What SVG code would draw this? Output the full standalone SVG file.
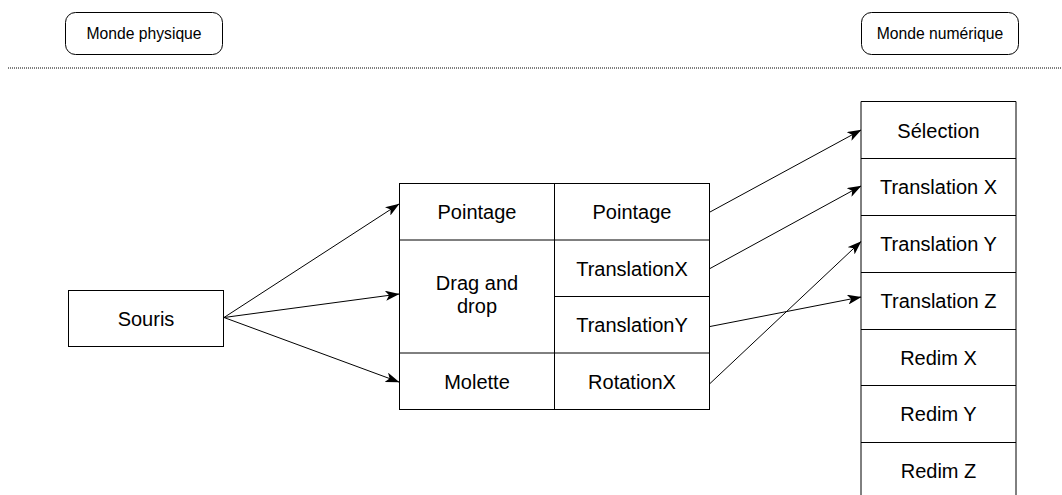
<svg xmlns="http://www.w3.org/2000/svg" width="1062" height="495" viewBox="0 0 1062 495">
<style>
  .box { fill: #ffffff; stroke: #000000; stroke-width: 1; }
  .ln { fill: none; stroke: #000000; stroke-width: 1; }
  .t { font-family: "Liberation Sans", Arial, sans-serif; font-size: 20px; fill: #000000; text-anchor: middle; }
  .ts { font-family: "Liberation Sans", Arial, sans-serif; font-size: 15.7px; fill: #000000; text-anchor: middle; }
  .edge { fill: none; stroke: #000000; stroke-width: 1; marker-end: url(#arr); }
</style>
<defs>
  <marker id="arr" viewBox="0 0 14 10" refX="13.5" refY="5" markerWidth="14" markerHeight="10" markerUnits="userSpaceOnUse" orient="auto">
    <path d="M0,0 L14,5 L0,10 L3.5,5 Z" fill="#000000"/>
  </marker>
</defs>
<rect width="1062" height="495" fill="#ffffff"/>

<g id="separator">
  <line x1="8" y1="68" x2="1062" y2="68" stroke="#000000" stroke-width="1" stroke-dasharray="1 1"/>
</g>

<g id="monde-physique">
  <rect class="box" x="65.5" y="12.5" width="157" height="42" rx="10" ry="10"/>
  <text class="ts" x="144" y="38.5">Monde physique</text>
</g>

<g id="monde-numerique">
  <rect class="box" x="861.5" y="12.5" width="157" height="42" rx="10" ry="10"/>
  <text class="ts" x="940" y="38.5">Monde numérique</text>
</g>

<g id="souris">
  <rect class="box" x="68.5" y="290.5" width="155" height="56"/>
  <text class="t" x="146" y="326">Souris</text>
</g>

<g id="table-gestes">
  <rect class="box" x="399.5" y="183.5" width="310" height="226"/>
  <line class="ln" x1="554.5" y1="183.5" x2="554.5" y2="409.5"/>
  <line class="ln" x1="399.5" y1="240" x2="709.5" y2="240"/>
  <line class="ln" x1="554.5" y1="296.5" x2="709.5" y2="296.5"/>
  <line class="ln" x1="399.5" y1="353" x2="709.5" y2="353"/>
  <g id="geste-pointage"><text class="t" x="477" y="219">Pointage</text></g>
  <g id="geste-drag"><text class="t" x="477" y="289.5">Drag and</text><text class="t" x="477" y="313">drop</text></g>
  <g id="geste-molette"><text class="t" x="477" y="388.5">Molette</text></g>
  <g id="act-pointage"><text class="t" x="632" y="219">Pointage</text></g>
  <g id="act-translationx"><text class="t" x="632" y="275.5">TranslationX</text></g>
  <g id="act-translationy"><text class="t" x="632" y="332">TranslationY</text></g>
  <g id="act-rotationx"><text class="t" x="632" y="388.5">RotationX</text></g>
</g>

<g id="table-numerique">
  <path class="box" d="M861,520 L861,101.5 L1016,101.5 L1016,520"/>
  <line class="ln" x1="861" y1="158.5" x2="1016" y2="158.5"/>
  <line class="ln" x1="861" y1="215.5" x2="1016" y2="215.5"/>
  <line class="ln" x1="861" y1="272.5" x2="1016" y2="272.5"/>
  <line class="ln" x1="861" y1="329.5" x2="1016" y2="329.5"/>
  <line class="ln" x1="861" y1="385.5" x2="1016" y2="385.5"/>
  <line class="ln" x1="861" y1="442.5" x2="1016" y2="442.5"/>
  <g id="num-selection"><text class="t" x="938.5" y="137.5">Sélection</text></g>
  <g id="num-translation-x"><text class="t" x="938.5" y="194">Translation X</text></g>
  <g id="num-translation-y"><text class="t" x="938.5" y="251">Translation Y</text></g>
  <g id="num-translation-z"><text class="t" x="938.5" y="308">Translation Z</text></g>
  <g id="num-redim-x"><text class="t" x="938.5" y="364.5">Redim X</text></g>
  <g id="num-redim-y"><text class="t" x="938.5" y="421">Redim Y</text></g>
  <g id="num-redim-z"><text class="t" x="938.5" y="477.5">Redim Z</text></g>
</g>

<g id="connectors">
  <line class="edge" x1="224" y1="317.5" x2="399" y2="204"/>
  <line class="edge" x1="224" y1="317.5" x2="399" y2="294"/>
  <line class="edge" x1="224" y1="317.5" x2="399" y2="382"/>
  <line class="edge" x1="710" y1="212" x2="861" y2="130"/>
  <line class="edge" x1="710" y1="268.5" x2="861" y2="186"/>
  <line class="edge" x1="710" y1="326.5" x2="861" y2="297"/>
  <line class="edge" x1="710" y1="383.5" x2="861" y2="241.5"/>
</g>
</svg>
